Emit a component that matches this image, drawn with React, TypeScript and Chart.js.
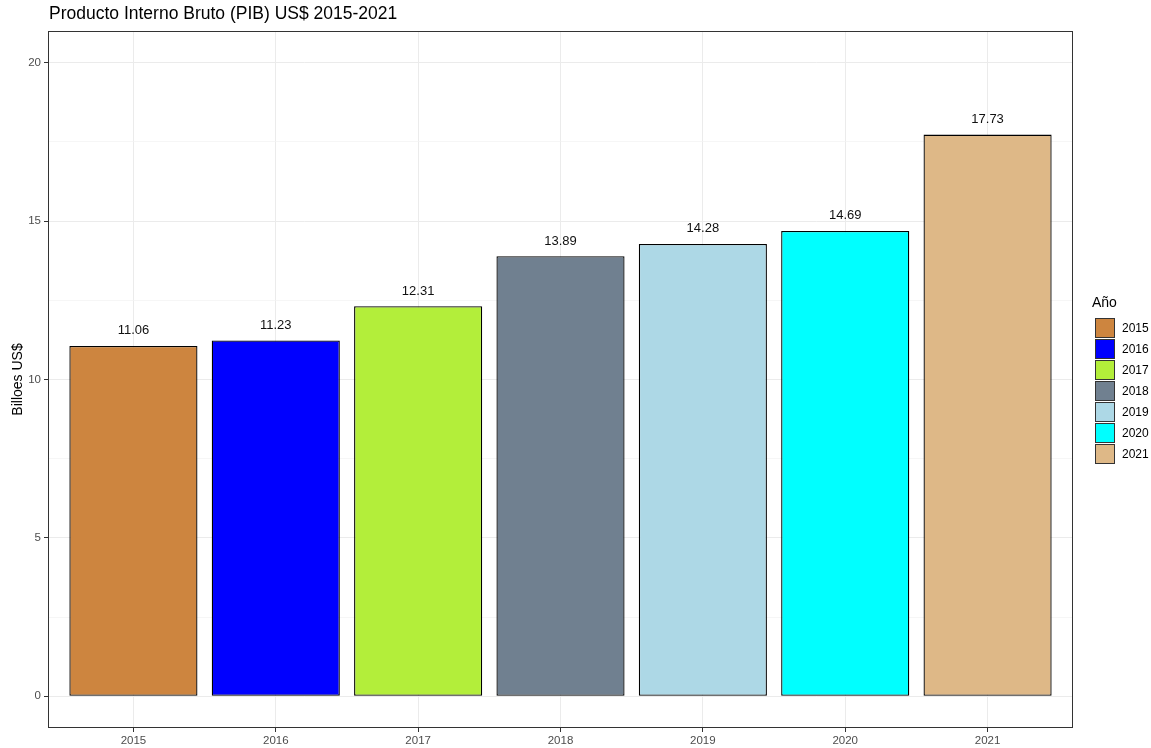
import React, { useEffect, useRef } from "react";
import { Chart, registerables } from "chart.js";

Chart.register(...registerables);

const years = ["2015", "2016", "2017", "2018", "2019", "2020", "2021"];
const pib = [11.06, 11.23, 12.31, 13.89, 14.28, 14.69, 17.73];
const barColors = ["#CD853F", "#0000FF", "#B3EE3A", "#708090", "#ADD8E6", "#00FFFF", "#DEB887"];
const yTickValues = [0, 2.5, 5, 7.5, 10, 12.5, 15, 17.5, 20];
const titleText = "Producto Interno Bruto (PIB) US$ 2015-2021";
const yTitleText = "Billoes US$";
const legendTitle = "Año";

const FONT = "'Liberation Sans', Arial, sans-serif";

const overlayPlugin = {
  id: "overlay",
  afterDatasetsDraw(chart: any) {
    const ctx = chart.ctx;
    const meta = chart.getDatasetMeta(0);
    ctx.save();
    ctx.fillStyle = "#111";
    ctx.font = `13px ${FONT}`;
    ctx.textAlign = "center";
    ctx.textBaseline = "middle";
    meta.data.forEach((bar: any, i: number) => {
      ctx.fillText(pib[i].toFixed(2), bar.x, bar.y - 15);
    });
    ctx.restore();
  },
  afterDraw(chart: any) {
    const ctx = chart.ctx;
    const { left, top, right, bottom } = chart.chartArea;
    ctx.save();
    // panel border
    ctx.strokeStyle = "#333333";
    ctx.lineWidth = 1;
    ctx.strokeRect(left + 0.5, top + 0.5, right - left - 1, bottom - top - 1);
    // title
    ctx.fillStyle = "#000";
    ctx.font = `17.5px ${FONT}`;
    ctx.textAlign = "left";
    ctx.textBaseline = "middle";
    ctx.fillText(titleText, 49, 14);
    // y title
    ctx.save();
    ctx.translate(18, (top + bottom) / 2);
    ctx.rotate(-Math.PI / 2);
    ctx.font = `14px ${FONT}`;
    ctx.textAlign = "center";
    ctx.textBaseline = "middle";
    ctx.fillText(yTitleText, 0, 0);
    ctx.restore();
    // legend
    ctx.font = `14px ${FONT}`;
    ctx.textAlign = "left";
    ctx.textBaseline = "middle";
    ctx.fillStyle = "#000";
    ctx.fillText(legendTitle, 1092, 303);
    ctx.font = `12px ${FONT}`;
    years.forEach((y, i) => {
      const cy = 328 + i * 21;
      ctx.fillStyle = barColors[i];
      ctx.fillRect(1095, cy - 10, 20, 20);
      ctx.strokeStyle = "#333333";
      ctx.lineWidth = 1;
      ctx.strokeRect(1095.5, cy - 9.5, 19, 19);
      ctx.fillStyle = "#000";
      ctx.fillText(y, 1122, cy + 1);
    });
    ctx.restore();
  },
};

export default function App() {
  const canvasRef = useRef<HTMLCanvasElement | null>(null);

  useEffect(() => {
    const canvas = canvasRef.current;
    if (!canvas) return;
    const chart = new Chart(canvas, {
      type: "bar",
      data: {
        datasets: [
          {
            data: pib.map((v, i) => ({ x: i, y: v })),
            backgroundColor: barColors,
            borderColor: "#000000",
            borderWidth: 1.3,
            borderSkipped: false,
            barPercentage: 0.9,
            categoryPercentage: 1,
          } as any,
        ],
      },
      options: {
        responsive: false,
        animation: false,
        devicePixelRatio: 1,
        layout: { padding: { top: 31, right: 78, bottom: 0, left: 0 } },
        plugins: {
          legend: { display: false },
          title: { display: false },
          tooltip: { enabled: false },
        },
        scales: {
          x: {
            type: "linear",
            min: -0.6,
            max: 6.6,
            offset: false,
            afterBuildTicks: (s: any) => {
              s.ticks = years.map((_, i) => ({ value: i }));
            },
            afterFit: (s: any) => {
              s.height = 20;
            },
            ticks: {
              callback: (v: any) => years[Math.round(Number(v))] ?? "",
              autoSkip: false,
              maxRotation: 0,
              color: "#4D4D4D",
              font: { family: FONT, size: 11.5 },
              padding: 2,
            },
            grid: {
              offset: false,
              color: "#EBEBEB",
              lineWidth: 1,
              tickColor: "#333333",
              tickLength: 4,
            },
            border: { display: false },
          },
          y: {
            type: "linear",
            min: -1,
            max: 21,
            afterBuildTicks: (s: any) => {
              s.ticks = yTickValues.map((v) => ({ value: v }));
            },
            afterFit: (s: any) => {
              s.width = 48;
            },
            ticks: {
              callback: (v: any) => (Number(v) % 5 === 0 ? String(v) : ""),
              autoSkip: false,
              color: "#4D4D4D",
              font: { family: FONT, size: 11.5 },
              padding: 3,
            },
            grid: {
              color: (c: any) => (c.tick && c.tick.value % 5 === 0 ? "#EBEBEB" : "#F2F2F2"),
              lineWidth: (c: any) => (c.tick && c.tick.value % 5 === 0 ? 1 : 0.7),
              tickColor: (c: any) => (c.tick && c.tick.value % 5 === 0 ? "#333333" : "rgba(0,0,0,0)"),
              tickLength: 4,
            },
            border: { display: false },
          },
        },
      } as any,
      plugins: [overlayPlugin],
    });
    return () => chart.destroy();
  }, []);

  return (
    <div style={{ position: "absolute", left: 0, top: 0, width: 1151, height: 748, background: "#fff" }}>
      <canvas ref={canvasRef} width={1151} height={748} />
    </div>
  );
}
